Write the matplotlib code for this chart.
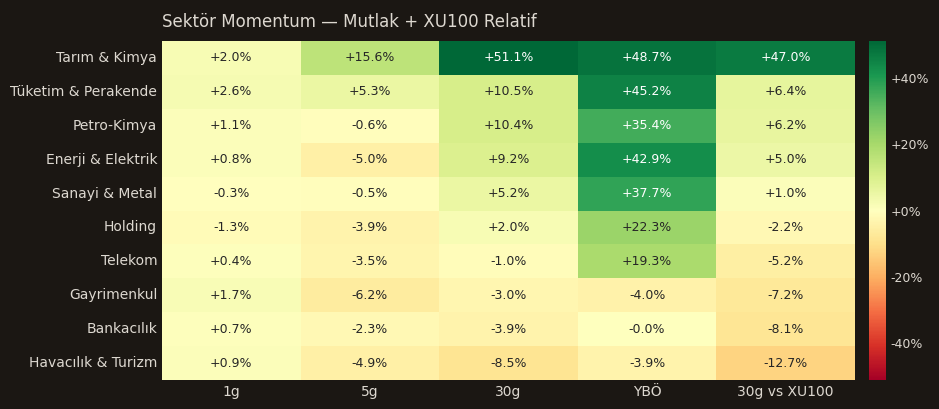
import matplotlib.pyplot as plt
import numpy as np
import seaborn as sns

sectors = ["Tarım & Kimya", "Tüketim & Perakende", "Petro-Kimya", "Enerji & Elektrik",
           "Sanayi & Metal", "Holding", "Telekom", "Gayrimenkul", "Bankacılık",
           "Havacılık & Turizm"]
periods = ["1g", "5g", "30g", "YBÖ", "30g vs XU100"]

# % change per sector / period
chg_1g = [2.0, 2.6, 1.1, 0.8, -0.3, -1.3, 0.4, 1.7, 0.7, 0.9]
chg_5g = [15.6, 5.3, -0.6, -5.0, -0.5, -3.9, -3.5, -6.2, -2.3, -4.9]
chg_30g = [51.1, 10.5, 10.4, 9.2, 5.2, 2.0, -1.0, -3.0, -3.9, -8.5]
chg_ybo = [48.7, 45.2, 35.4, 42.9, 37.7, 22.3, 19.3, -4.0, -0.0, -3.9]
rel_xu100 = [47.0, 6.4, 6.2, 5.0, 1.0, -2.2, -5.2, -7.2, -8.1, -12.7]

data = np.column_stack([chg_1g, chg_5g, chg_30g, chg_ybo, rel_xu100])
labels = np.array([[f"{v:+.1f}%" for v in row] for row in data])

bg = "#1b1713"
fg = "#ddd8d0"
lim = np.abs(data).max()

fig = plt.figure(figsize=(9.39, 4.09), dpi=100, facecolor=bg)
ax = fig.add_axes([162 / 939, 29 / 409, 693 / 939, 339 / 409])
cax = fig.add_axes([869 / 939, 29 / 409, 17 / 939, 339 / 409])

sns.heatmap(data, ax=ax, cbar_ax=cax, cmap="RdYlGn", vmin=-lim, vmax=lim, center=0,
            annot=labels, fmt="", annot_kws={"fontsize": 9},
            xticklabels=periods, yticklabels=sectors)

ax.set_facecolor(bg)
ax.tick_params(length=0, colors=fg, labelsize=10)
ax.tick_params(axis="y", rotation=0)
ax.set_title("Sektör Momentum — Mutlak + XU100 Relatif", loc="left", color=fg,
             fontsize=12, pad=10)

cax.tick_params(length=0, colors=fg, labelsize=9)
cax.yaxis.set_major_formatter(plt.FuncFormatter(lambda v, _: f"{v:+.0f}%"))
cax.set_yticks([-40, -20, 0, 20, 40])

fig.savefig("out.png", facecolor=bg)
